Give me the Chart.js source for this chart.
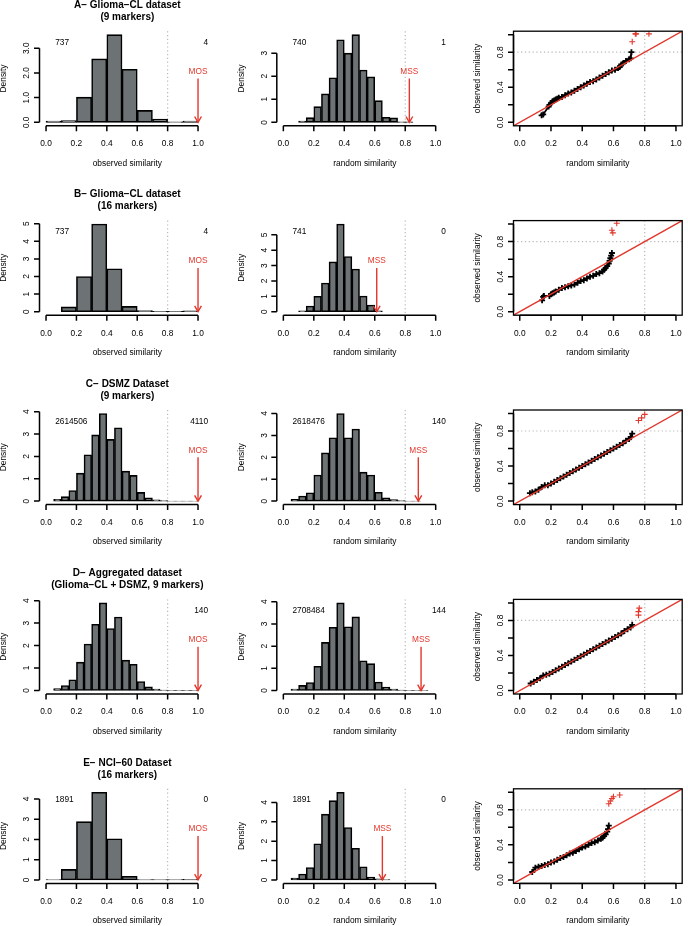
<!DOCTYPE html>
<html>
<head>
<meta charset="utf-8">
<script src="https://cdn.jsdelivr.net/npm/chart.js@4.4.1/dist/chart.umd.min.js"></script>
<style>
  html, body { margin: 0; padding: 0; background: #fff; width: 688px; height: 926px; overflow: hidden; position: relative; }
  canvas { position: absolute; }
</style>
</head>
<body>
<script>
const FONT = '"Liberation Sans", Arial, Helvetica, sans-serif';

// --- Panel titles ---
const titlesA = ['A\u2212 Glioma\u2212CL dataset', '(9 markers)'];
const titlesB = ['B\u2212 Glioma\u2212CL dataset', '(16 markers)'];
const titlesC = ['C\u2212 DSMZ Dataset', '(9 markers)'];
const titlesD = ['D\u2212 Aggregated dataset', '(Glioma\u2212CL + DSMZ, 9 markers)'];
const titlesE = ['E\u2212 NCI\u221260 Dataset', '(16 markers)'];

// --- Histograms: bin breaks and densities ---
const breaksA1 = [0.0, 0.1, 0.2, 0.3, 0.4, 0.5, 0.6, 0.7, 0.8, 0.9, 1.0];
const densA1 = [0.05, 0.07, 1.02, 2.57, 3.55, 2.15, 0.48, 0.13, 0.02, 0.05];
const breaksA2 = [0.10, 0.15, 0.20, 0.25, 0.30, 0.35, 0.40, 0.45, 0.50, 0.55, 0.60, 0.65, 0.70, 0.75, 0.80, 0.85];
const densA2 = [0.05, 0.20, 0.68, 1.23, 1.93, 3.58, 3.00, 3.80, 2.27, 1.97, 0.94, 0.22, 0.19, 0.02, 0.02];

const breaksB1 = [0.1, 0.2, 0.3, 0.4, 0.5, 0.6, 0.7, 0.8, 0.9, 1.0];
const densB1 = [0.27, 2.00, 4.98, 2.44, 0.30, 0.07, 0.02, 0.02, 0.05];
const breaksB2 = [0.10, 0.15, 0.20, 0.25, 0.30, 0.35, 0.40, 0.45, 0.50, 0.55, 0.60, 0.65];
const densB2 = [0.05, 0.37, 1.00, 1.87, 3.24, 5.70, 3.59, 2.78, 1.02, 0.43, 0.05];

const breaksC1 = [0.05, 0.10, 0.15, 0.20, 0.25, 0.30, 0.35, 0.40, 0.45, 0.50, 0.55, 0.60, 0.65, 0.70, 0.75, 0.80, 0.85, 0.90, 0.95, 1.00];
const densC1 = [0.08, 0.20, 0.47, 1.25, 2.07, 2.96, 3.92, 2.76, 3.28, 1.34, 1.15, 0.39, 0.15, 0.06, 0.02, 0.005, 0.005, 0.005, 0.005];
const breaksC2 = [0.05, 0.10, 0.15, 0.20, 0.25, 0.30, 0.35, 0.40, 0.45, 0.50, 0.55, 0.60, 0.65, 0.70, 0.75, 0.80, 0.85, 0.90];
const densC2 = [0.08, 0.23, 0.38, 1.19, 2.20, 2.89, 4.00, 2.89, 3.29, 1.32, 1.19, 0.40, 0.15, 0.07, 0.02, 0.005, 0.005];

const breaksD1 = [0.05, 0.10, 0.15, 0.20, 0.25, 0.30, 0.35, 0.40, 0.45, 0.50, 0.55, 0.60, 0.65, 0.70, 0.75, 0.80, 0.85, 0.90, 0.95, 1.00];
const densD1 = [0.08, 0.22, 0.48, 1.26, 2.07, 2.95, 3.90, 2.76, 3.27, 1.35, 1.17, 0.40, 0.16, 0.06, 0.02, 0.005, 0.005, 0.005, 0.005];
const breaksD2 = [0.05, 0.10, 0.15, 0.20, 0.25, 0.30, 0.35, 0.40, 0.45, 0.50, 0.55, 0.60, 0.65, 0.70, 0.75, 0.80, 0.85, 0.90, 0.95];
const densD2 = [0.06, 0.23, 0.36, 1.09, 2.17, 2.85, 3.95, 2.87, 3.32, 1.34, 1.21, 0.38, 0.15, 0.06, 0.02, 0.005, 0.005, 0.005];

const breaksE1 = [0.0, 0.1, 0.2, 0.3, 0.4, 0.5, 0.6, 0.7, 0.8, 0.9, 1.0];
const densE1 = [0.02, 0.52, 2.88, 4.33, 2.03, 0.18, 0.02, 0.01, 0.01, 0.03];
const breaksE2 = [0.05, 0.10, 0.15, 0.20, 0.25, 0.30, 0.35, 0.40, 0.45, 0.50, 0.55, 0.60, 0.65, 0.70];
const densE2 = [0.09, 0.30, 0.64, 1.86, 3.39, 4.09, 4.52, 2.70, 1.63, 0.68, 0.14, 0.05, 0.02];

// counts printed in the histograms (left / right of the 0.8 line)
const countsLeft = [['737', '740'], ['737', '741'], ['2614506', '2618476'], ['', '2708484'], ['1891', '1891']];
const countsRight = [['4', '1'], ['4', '0'], ['4110', '140'], ['140', '144'], ['0', '0']];
// MOS / MSS arrow position
const mosAt = [1.0, 1.0, 1.0, 1.0, 1.0];
const mssAt = [0.827, 0.613, 0.886, 0.904, 0.65];

// --- QQ plots: random (x) vs observed (y) similarity ---
const qqAx = [0.140, 0.150, 0.185, 0.190, 0.200, 0.210, 0.220, 0.230, 0.240, 0.250, 0.270, 0.290, 0.310, 0.330, 0.350, 0.370, 0.390, 0.410, 0.430, 0.450, 0.470, 0.490, 0.510, 0.530, 0.550, 0.570, 0.590, 0.610, 0.630, 0.640, 0.650, 0.660, 0.680, 0.700, 0.710, 0.715];
const qqAy = [0.080, 0.090, 0.180, 0.200, 0.220, 0.240, 0.250, 0.260, 0.270, 0.280, 0.290, 0.310, 0.330, 0.340, 0.360, 0.380, 0.400, 0.420, 0.440, 0.460, 0.470, 0.490, 0.510, 0.530, 0.550, 0.570, 0.590, 0.600, 0.620, 0.630, 0.660, 0.670, 0.700, 0.720, 0.730, 0.800];
const qqAredX = [0.720, 0.740, 0.745, 0.827];
const qqAredY = [0.920, 1.010, 1.010, 1.010];

const qqBx = [0.143, 0.150, 0.155, 0.190, 0.200, 0.210, 0.220, 0.230, 0.250, 0.270, 0.290, 0.310, 0.330, 0.350, 0.370, 0.390, 0.410, 0.430, 0.450, 0.470, 0.490, 0.510, 0.530, 0.540, 0.550, 0.560, 0.570, 0.575, 0.580, 0.585, 0.590];
const qqBy = [0.130, 0.170, 0.180, 0.180, 0.200, 0.210, 0.220, 0.230, 0.250, 0.270, 0.280, 0.290, 0.300, 0.310, 0.330, 0.350, 0.360, 0.380, 0.400, 0.410, 0.430, 0.440, 0.460, 0.480, 0.500, 0.520, 0.550, 0.580, 0.610, 0.640, 0.670];
const qqBredX = [0.590, 0.596, 0.621];
const qqBredY = [0.930, 0.900, 1.010];

const qqCx = [0.065, 0.080, 0.100, 0.120, 0.140, 0.160, 0.180, 0.200, 0.220, 0.240, 0.260, 0.280, 0.300, 0.320, 0.340, 0.360, 0.380, 0.400, 0.420, 0.440, 0.460, 0.480, 0.500, 0.520, 0.540, 0.560, 0.580, 0.600, 0.620, 0.640, 0.660, 0.680, 0.700, 0.710, 0.720];
const qqCy = [0.090, 0.100, 0.110, 0.130, 0.160, 0.180, 0.180, 0.200, 0.220, 0.240, 0.260, 0.280, 0.300, 0.320, 0.340, 0.360, 0.380, 0.400, 0.420, 0.440, 0.460, 0.480, 0.500, 0.520, 0.540, 0.560, 0.580, 0.600, 0.620, 0.640, 0.660, 0.690, 0.710, 0.730, 0.770];
const qqCredX = [0.760, 0.780, 0.800];
const qqCredY = [0.920, 0.950, 0.990];

const qqDx = [0.070, 0.090, 0.110, 0.130, 0.150, 0.170, 0.190, 0.210, 0.230, 0.250, 0.270, 0.290, 0.310, 0.330, 0.350, 0.370, 0.390, 0.410, 0.430, 0.450, 0.470, 0.490, 0.510, 0.530, 0.550, 0.570, 0.590, 0.610, 0.630, 0.650, 0.670, 0.690, 0.710, 0.720];
const qqDy = [0.080, 0.100, 0.120, 0.140, 0.170, 0.180, 0.190, 0.210, 0.230, 0.250, 0.270, 0.290, 0.310, 0.330, 0.350, 0.370, 0.390, 0.410, 0.430, 0.450, 0.470, 0.490, 0.510, 0.530, 0.550, 0.570, 0.590, 0.610, 0.630, 0.650, 0.680, 0.700, 0.720, 0.750];
const qqDredX = [0.760, 0.760, 0.765];
const qqDredY = [0.860, 0.900, 0.940];

const qqEx = [0.080, 0.100, 0.120, 0.140, 0.160, 0.180, 0.200, 0.220, 0.240, 0.260, 0.280, 0.300, 0.320, 0.340, 0.360, 0.380, 0.400, 0.420, 0.440, 0.460, 0.480, 0.500, 0.520, 0.530, 0.540, 0.550, 0.560, 0.565, 0.570];
const qqEy = [0.090, 0.140, 0.150, 0.160, 0.170, 0.180, 0.200, 0.210, 0.230, 0.250, 0.260, 0.280, 0.300, 0.310, 0.330, 0.350, 0.370, 0.380, 0.400, 0.420, 0.430, 0.450, 0.470, 0.480, 0.500, 0.520, 0.550, 0.580, 0.620];
const qqEredX = [0.570, 0.580, 0.590, 0.600, 0.640];
const qqEredY = [0.870, 0.900, 0.930, 0.950, 0.970];

const histXTicks = [0.0, 0.2, 0.4, 0.6, 0.8, 1.0];
const qqTicks = [0.0, 0.2, 0.4, 0.6, 0.8, 1.0];
const qqYLabels = ['0.0', '', '0.4', '', '0.8', ''];

// --- Layout (pixels in page) ---
const REGION_X = [[39.5, 215.2], [276.8, 452.9], [513.5, 686.3]];
const REGION_TOP0 = 31.2, ROW_STEP = 189.4, REGION_H = 94.6;
const CELL_LEFT = [0, 229, 458], CELL_W = [229, 229, 230], CELL_H = 190;
const RED = '#e2372c';

function line(ctx, x1, y1, x2, y2) {
    ctx.beginPath(); ctx.moveTo(x1, y1); ctx.lineTo(x2, y2); ctx.stroke();
}

// R-like base graphics decorations
const rPlot = {
    id: 'rPlot',
    beforeDatasetsDraw(chart, args, o) {
        const { ctx, chartArea: a, scales: { x, y } } = chart;
        ctx.save();
        ctx.strokeStyle = '#b8b8b8';
        ctx.lineWidth = 1.2;
        ctx.setLineDash([1.2, 2.6]);
        (o.vlines || []).forEach(v => { const p = x.getPixelForValue(v); line(ctx, p, a.top, p, a.bottom); });
        (o.hlines || []).forEach(v => { const p = y.getPixelForValue(v); line(ctx, a.left, p, a.right, p); });
        ctx.restore();
    },
    afterDatasetsDraw(chart, args, o) {
        const { ctx, chartArea: a, scales: { x, y } } = chart;

        // identity line for the QQ plots
        if (o.diagonal) {
            ctx.save();
            ctx.beginPath(); ctx.rect(a.left, a.top, a.right - a.left, a.bottom - a.top); ctx.clip();
            ctx.strokeStyle = RED; ctx.lineWidth = 1.4;
            line(ctx, x.getPixelForValue(x.min), y.getPixelForValue(x.min), x.getPixelForValue(x.max), y.getPixelForValue(x.max));
            ctx.restore();
        }

        ctx.save();
        ctx.strokeStyle = '#000'; ctx.fillStyle = '#000'; ctx.lineWidth = 1.5;
        ctx.font = '8.4px ' + FONT;

        // x axis
        const xt = o.xTicks;
        ctx.beginPath();
        ctx.moveTo(x.getPixelForValue(xt[0]), a.bottom);
        ctx.lineTo(x.getPixelForValue(xt[xt.length - 1]), a.bottom);
        xt.forEach(v => { const p = x.getPixelForValue(v); ctx.moveTo(p, a.bottom); ctx.lineTo(p, a.bottom + 5.5); });
        ctx.stroke();
        ctx.textAlign = 'center'; ctx.textBaseline = 'middle';
        xt.forEach(v => ctx.fillText(v.toFixed(1), x.getPixelForValue(v), a.bottom + 18));
        ctx.fillText(o.xTitle, (a.left + a.right) / 2, a.bottom + 37.5);

        // y axis
        const yt = o.yTicks;
        ctx.beginPath();
        ctx.moveTo(a.left, y.getPixelForValue(yt[0]));
        ctx.lineTo(a.left, y.getPixelForValue(yt[yt.length - 1]));
        yt.forEach(v => { const p = y.getPixelForValue(v); ctx.moveTo(a.left, p); ctx.lineTo(a.left - 5.5, p); });
        ctx.stroke();
        yt.forEach((v, i) => {
            const lab = o.yLabels[i];
            if (!lab) return;
            ctx.save();
            ctx.translate(a.left - 12.5, y.getPixelForValue(v));
            ctx.rotate(-Math.PI / 2);
            ctx.fillText(lab, 0, 0);
            ctx.restore();
        });
        ctx.save();
        ctx.translate(a.left - 35.5, (a.top + a.bottom) / 2);
        ctx.rotate(-Math.PI / 2);
        ctx.fillText(o.yTitle, 0, 0);
        ctx.restore();

        if (o.box) {
            ctx.lineWidth = 1.3;
            ctx.strokeRect(a.left, a.top, a.right - a.left, a.bottom - a.top);
        }

        // main title
        if (o.title) {
            ctx.font = 'bold 10px ' + FONT;
            const cx = (a.left + a.right) / 2;
            ctx.fillText(o.title[0], cx, a.top - 26);
            ctx.fillText(o.title[1], cx, a.top - 14);
        }

        // counts and MOS/MSS arrow
        if (o.ymax) {
            ctx.font = '8.3px ' + FONT;
            const ty = y.getPixelForValue(0.91 * o.ymax);
            ctx.textAlign = 'left';
            ctx.fillText(o.leftText, x.getPixelForValue(0.06), ty);
            ctx.textAlign = 'right';
            ctx.fillText(o.rightText, x.getPixelForValue(1.066), ty);

            const ax = x.getPixelForValue(o.arrowAt);
            const top = y.getPixelForValue(0.5 * o.ymax), tip = y.getPixelForValue(0);
            ctx.fillStyle = RED; ctx.strokeStyle = RED; ctx.lineWidth = 1.4;
            ctx.textAlign = 'center';
            ctx.fillText(o.arrowLabel, ax, y.getPixelForValue(0.58 * o.ymax));
            line(ctx, ax, top, ax, tip);
            ctx.beginPath();
            ctx.moveTo(ax - 3.4, tip - 5.8); ctx.lineTo(ax, tip); ctx.lineTo(ax + 3.4, tip - 5.8);
            ctx.stroke();
        }
        ctx.restore();
    }
};

function makeCanvas(row, col) {
    const c = document.createElement('canvas');
    const top = Math.round(REGION_TOP0 + ROW_STEP * row) - 38;
    c.width = CELL_W[col]; c.height = CELL_H;
    c.style.left = CELL_LEFT[col] + 'px';
    c.style.top = top + 'px';
    document.body.appendChild(c);
    const rTop = REGION_TOP0 + ROW_STEP * row;
    const padding = {
        left: REGION_X[col][0] - CELL_LEFT[col],
        right: CELL_LEFT[col] + CELL_W[col] - REGION_X[col][1],
        top: rTop - top,
        bottom: top + CELL_H - (rTop + REGION_H)
    };
    return { ctx: c.getContext('2d'), padding };
}

function histPanel(row, col, breaks, dens, deco) {
    const { ctx, padding } = makeCanvas(row, col);
    const ymax = Math.max(...dens);
    const data = dens.map((d, i) => ({ x: (breaks[i] + breaks[i + 1]) / 2, y: d }));
    new Chart(ctx, {
        type: 'bar',
        data: {
            datasets: [{
                data: data,
                backgroundColor: '#6d7274',
                borderColor: '#000',
                borderWidth: 1.6,
                borderSkipped: false,
                barPercentage: 1,
                categoryPercentage: 1
            }]
        },
        options: {
            responsive: false, animation: false, devicePixelRatio: 1,
            layout: { padding: padding },
            scales: {
                x: { type: 'linear', display: false, offset: false, min: -0.043, max: 1.113, ticks: { stepSize: 0.2, includeBounds: false } },
                y: { type: 'linear', display: false, min: -0.04 * ymax, max: 1.04 * ymax }
            },
            plugins: {
                legend: { display: false }, tooltip: { enabled: false },
                rPlot: Object.assign({ ymax: ymax, xTicks: histXTicks, yTitle: 'Density', vlines: [0.8] }, deco)
            }
        },
        plugins: [rPlot]
    });
}

function qqPanel(row, bx, by, rx, ry) {
    const { ctx, padding } = makeCanvas(row, 2);
    const cross = (color) => ({ pointStyle: 'cross', pointRadius: 3, borderWidth: 1.1, borderColor: color, backgroundColor: color });
    new Chart(ctx, {
        type: 'scatter',
        data: {
            datasets: [
                // observed quantiles below 0.8: dense chain of crosses
                Object.assign({ data: bx.map((v, i) => ({ x: v, y: by[i] })), showLine: true }, cross('#000'), { borderWidth: 1.8 }),
                Object.assign({ data: rx.map((v, i) => ({ x: v, y: ry[i] })), showLine: false }, cross(RED))
            ]
        },
        options: {
            responsive: false, animation: false, devicePixelRatio: 1,
            layout: { padding: padding },
            scales: {
                x: { type: 'linear', display: false, min: -0.04, max: 1.04 },
                y: { type: 'linear', display: false, min: -0.04, max: 1.04 }
            },
            plugins: {
                legend: { display: false }, tooltip: { enabled: false },
                rPlot: {
                    xTicks: qqTicks, yTicks: qqTicks, yLabels: qqYLabels,
                    xTitle: 'random similarity', yTitle: 'observed similarity',
                    vlines: [0.8], hlines: [0.8], box: true, diagonal: true
                }
            }
        },
        plugins: [rPlot]
    });
}

const intTicks = (n) => Array.from({ length: n + 1 }, (_, i) => i);

const histRows = [
    { t: titlesA, h: [[breaksA1, densA1], [breaksA2, densA2]], yt: [3, 3], fmt: 1 },
    { t: titlesB, h: [[breaksB1, densB1], [breaksB2, densB2]], yt: [5, 5], fmt: 0 },
    { t: titlesC, h: [[breaksC1, densC1], [breaksC2, densC2]], yt: [4, 4], fmt: 0 },
    { t: titlesD, h: [[breaksD1, densD1], [breaksD2, densD2]], yt: [4, 4], fmt: 0 },
    { t: titlesE, h: [[breaksE1, densE1], [breaksE2, densE2]], yt: [4, 4], fmt: 0 }
];

histRows.forEach((r, row) => {
    [0, 1].forEach(col => {
        const yt = intTicks(r.yt[col]);
        histPanel(row, col, r.h[col][0], r.h[col][1], {
            title: col === 0 ? r.t : null,
            xTitle: col === 0 ? 'observed similarity' : 'random similarity',
            yTicks: yt,
            yLabels: yt.map(v => (col === 0 && r.fmt === 1) ? v.toFixed(1) : String(v)),
            leftText: countsLeft[row][col],
            rightText: countsRight[row][col],
            arrowAt: col === 0 ? mosAt[row] : mssAt[row],
            arrowLabel: col === 0 ? 'MOS' : 'MSS'
        });
    });
});

qqPanel(0, qqAx, qqAy, qqAredX, qqAredY);
qqPanel(1, qqBx, qqBy, qqBredX, qqBredY);
qqPanel(2, qqCx, qqCy, qqCredX, qqCredY);
qqPanel(3, qqDx, qqDy, qqDredX, qqDredY);
qqPanel(4, qqEx, qqEy, qqEredX, qqEredY);
</script>
</body>
</html>
